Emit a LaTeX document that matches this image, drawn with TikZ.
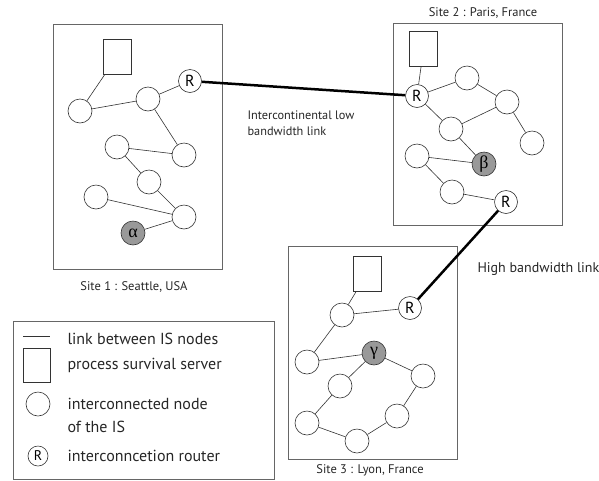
\documentclass[tikz,border=0pt]{standalone}
\usepackage{fontspec}
\setmainfont{PT Sans}
\newfontfamily\greekfont{Liberation Serif}
\definecolor{linkgray}{HTML}{333333}
\definecolor{boxgray}{HTML}{666666}
\definecolor{nodegray}{HTML}{999999}
\tikzset{
  site/.style={draw=boxgray, line width=0.8pt},
  isnode/.style={circle, draw=linkgray, fill=white, minimum size=24pt, inner sep=0pt, line width=0.6pt},
  marked/.style={isnode, fill=nodegray, font=\greekfont\fontsize{18}{18}\selectfont},
  router/.style={isnode, minimum size=23pt, font=\fontsize{16}{16}\selectfont},
  server/.style={draw=linkgray, fill=white, minimum width=28pt, minimum height=35pt, inner sep=0pt, line width=0.6pt},
  link/.style={draw=linkgray, line width=0.6pt},
  wan/.style={draw=black, line width=2.5pt},
  sitelabel/.style={font=\fontsize{12.5}{14}\selectfont, text=black!85},
  linklabel/.style={font=\fontsize{12.3}{15.5}\selectfont, text=black!85, align=left, anchor=west},
  legendtext/.style={font=\fontsize{16}{23}\selectfont, text=black!85, anchor=west, align=left}
}
\begin{document}
\begin{tikzpicture}[x=1pt, y=-1pt]
\useasboundingbox (0,0) rectangle (599,480);
% site 1
\draw[site] (53,24) rectangle (222,269);
\node[server] (srv1) at (117,56.5) {};
\node[isnode] (a1) at (80,111) {};
\node[isnode] (a2) at (148,99) {};
\node[router] (r1) at (190,81) {R};
\node[isnode] (a3) at (117,147) {};
\node[isnode] (a4) at (184,155) {};
\node[isnode] (a5) at (149,182) {};
\node[isnode] (a6) at (96,197) {};
\node[isnode] (a7) at (184,217) {};
\node[marked] (alpha) at (133,233) {α};
\draw[link] (srv1) -- (a1) -- (a2) -- (r1);
\draw[link] (a2) -- (a4) -- (a3) -- (a5) -- (a7) -- (a6);
\draw[link] (a7) -- (alpha);
\node[sitelabel] (s1) at (134,287) {Site 1 : Seattle, USA};
% site 2
\draw[site] (393,23) rectangle (562,225);
\node[server] (srv2) at (423.5,49) {};
\node[router] (r2) at (417,96) {R};
\node[isnode] (b1) at (467,78) {};
\node[isnode] (b2) at (507,102) {};
\node[isnode] (b3) at (451,129) {};
\node[isnode] (b4) at (532,143) {};
\node[isnode] (b5) at (417,156) {};
\node[marked] (beta) at (484,164) {β};
\node[isnode] (b6) at (452,192) {};
\node[router] (r3) at (506,202) {R};
\draw[link] (srv2) -- (r2) -- (b1) -- (b2) -- (b4);
\draw[link] (r2) -- (b3) -- (b2);
\draw[link] (b3) -- (beta) -- (b5) -- (b6) -- (r3);
\node[sitelabel] (s2) at (483,13) {Site 2 : Paris, France};
% site 3
\draw[site] (288,246) rectangle (457,459);
\node[server] (srv3) at (367,273.5) {};
\node[isnode] (c1) at (342,315) {};
\node[router] (r4) at (410,308) {R};
\node[isnode] (c2) at (307,362) {};
\node[marked] (gamma) at (374,353) {γ};
\node[isnode] (c3) at (423,376) {};
\node[isnode] (c4) at (340,386) {};
\node[isnode] (c5) at (307,423) {};
\node[isnode] (c6) at (357,441) {};
\node[isnode] (c7) at (397,416) {};
\draw[link] (srv3) -- (c1) -- (r4);
\draw[link] (c1) -- (c2) -- (gamma) -- (c3) -- (c7) -- (c6) -- (c5) -- (c4) -- (gamma);
\node[sitelabel] (s3) at (370,470) {Site 3 : Lyon, France};
% links between sites
\draw[wan] (r1) -- (r2);
\draw[wan] (r3) -- (r4);
\node[linklabel] (low) at (244,123) {Intercontinental low\\bandwidth link};
\node[linklabel, font=\fontsize{14}{16}\selectfont] (high) at (474,269) {High bandwidth link};
% legend
\draw[site] (13,321) rectangle (274,479);
\coordinate (l1) at (23,336);
\coordinate (l2) at (50,336);
\draw[link] (l1) -- (l2);
\node[server, minimum width=27pt, minimum height=34pt] (lsrv) at (36.5,365) {};
\node[isnode] (lnode) at (38,404) {};
\node[router, minimum size=20pt, font=\fontsize{14}{14}\selectfont] (lrouter) at (38,456) {R};
\node[legendtext] (t1) at (64,339) {link between IS nodes};
\node[legendtext] (t2) at (64,365) {process survival server};
\node[legendtext] (t3) at (64,415) {interconnected node\\of the IS};
\node[legendtext] (t4) at (64,456) {interconncetion router};
\end{tikzpicture}
\end{document}
